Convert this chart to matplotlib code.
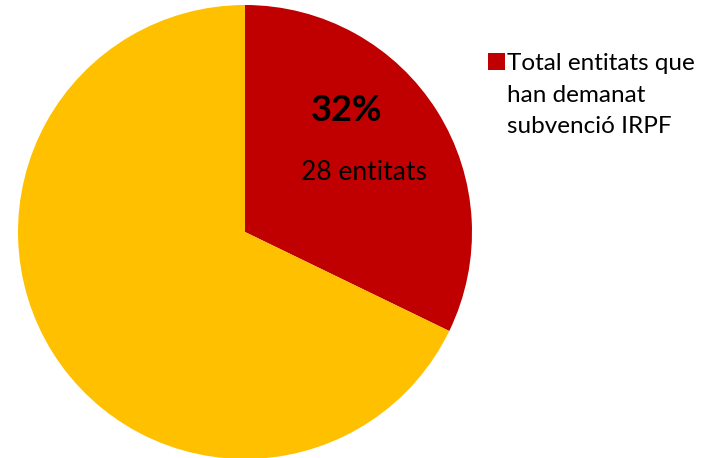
import matplotlib.pyplot as plt
from matplotlib.patches import Rectangle

# data
legend_label = "Total entitats que\nhan demanat\nsubvenció IRPF"
counts = [28, 59]
colors = ["#C00000", "#FFC000"]

plt.rcParams['font.family'] = ['Lato', 'DejaVu Sans']

fig = plt.figure(figsize=(7.19, 4.58), dpi=100)
ax = fig.add_axes([18 / 719, -1 / 458, 454 / 719, 454 / 458])

wedges, _ = ax.pie(counts, colors=colors, startangle=90, counterclock=False,
                   radius=1.0, wedgeprops=dict(linewidth=0))
ax.set_xlim(-1, 1)
ax.set_ylim(-1, 1)
ax.set_aspect('equal')
ax.axis('off')

pct = counts[0] / sum(counts) * 100
ax.text(0.449, 0.537, f"{pct:.0f}%", ha='center', va='center',
        fontsize=26, fontweight='bold', color='black')
ax.text(0.524, 0.262, f"{counts[0]} entitats", ha='center', va='center',
        fontsize=19, color='black')

# legend
fig.patches.append(Rectangle((488 / 719, 1 - 70 / 458), 17 / 719, 17 / 458,
                             transform=fig.transFigure, facecolor=colors[0],
                             edgecolor='none'))
fig.text(507 / 719, 1 - 53 / 458, legend_label, ha='left', va='top',
         fontsize=17.5, linespacing=1.62, color='black')

fig.savefig("out.png", dpi=100)
